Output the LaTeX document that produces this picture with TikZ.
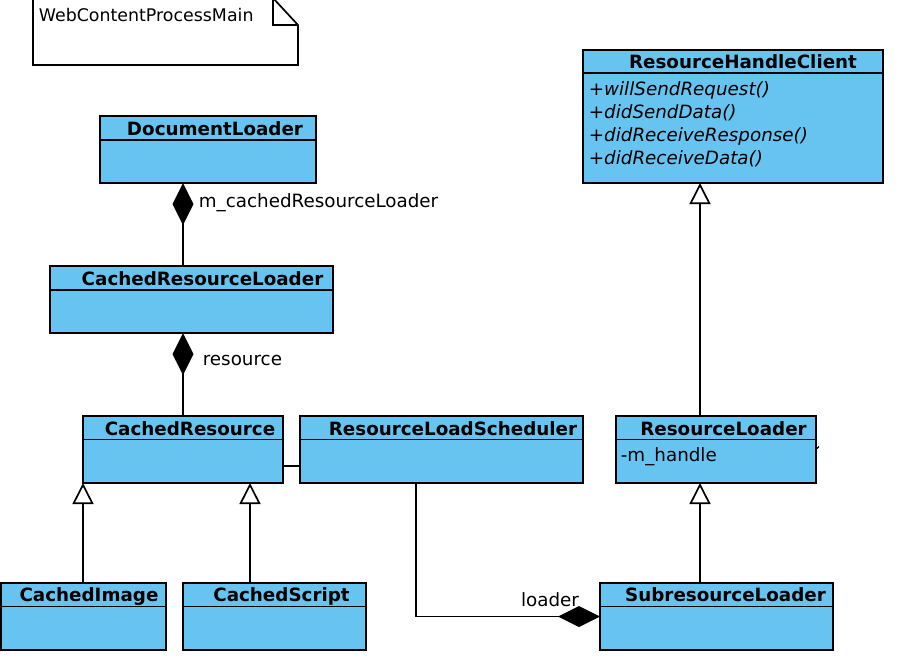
\documentclass[tikz,border=0pt]{standalone}
\usepackage{fontspec}
\setmainfont{DejaVu Sans}
\usetikzlibrary{arrows.meta}
\definecolor{umlblue}{RGB}{103,196,240}
\definecolor{umlline}{RGB}{0,0,0}
\tikzset{
  cls/.style={draw=umlline, fill=umlblue, rectangle, anchor=north west, inner sep=0pt, outer sep=0pt},
  ttl/.style={font=\fontsize{18.3}{21}\selectfont\bfseries, inner sep=0pt, anchor=base},
  lbl/.style={font=\fontsize{18.3}{21}\selectfont, inner sep=0pt, anchor=base west},
  oplbl/.style={font=\fontsize{18.3}{21}\selectfont\itshape, inner sep=0pt, anchor=base west},
  comp/.style={-{Diamond[length=42pt,width=21pt]}},
  gen/.style={-{Triangle[length=21pt,width=21pt,fill=white]}},
}
\begin{document}
\begin{tikzpicture}[x=1pt,y=-1pt,line width=1.7pt,draw=umlline]
\useasboundingbox (0,0) rectangle (911,665);

% note
\draw[fill=white] (33,-2) -- (273,-2) -- (298,25) -- (298,65) -- (33,65) -- cycle;
\draw (273,-2) -- (273,25) -- (298,25);
\node[inner sep=0pt, anchor=base west, font=\fontsize{17.4}{20}\selectfont] (notetxt) at (38,21.5) {WebContentProcessMain};

% ResourceHandleClient
\node[cls, minimum width=300pt, minimum height=133pt] (rhc) at (583,50) {};
\draw ([yshift=-23pt]rhc.north west) -- ([yshift=-23pt]rhc.north east);
\node[ttl] (rhct) at (743,68.5) {ResourceHandleClient};
\node[oplbl] (op1) at (588,95) {+willSendRequest()};
\node[oplbl] (op2) at (588,118.3) {+didSendData()};
\node[oplbl] (op3) at (588,141) {+didReceiveResponse()};
\node[oplbl] (op4) at (588,164) {+didReceiveData()};

% DocumentLoader
\node[cls, minimum width=216pt, minimum height=67pt] (dl) at (100,116) {};
\draw ([yshift=-24pt]dl.north west) -- ([yshift=-24pt]dl.north east);
\node[ttl] (dlt) at (215,135) {DocumentLoader};

% CachedResourceLoader
\node[cls, minimum width=283pt, minimum height=67pt] (crl) at (50,266) {};
\draw ([yshift=-24pt]crl.north west) -- ([yshift=-24pt]crl.north east);
\node[ttl] (crlt) at (202.5,285) {CachedResourceLoader};

% CachedResource
\node[cls, minimum width=200pt, minimum height=67pt] (cr) at (83,416) {};
\draw ([yshift=-23.5pt]cr.north west) -- ([yshift=-23.5pt]cr.north east);
\node[ttl] (crt) at (190,435) {CachedResource};

% ResourceLoadScheduler
\node[cls, minimum width=283pt, minimum height=67pt] (rls) at (300,416) {};
\draw ([yshift=-23.5pt]rls.north west) -- ([yshift=-23.5pt]rls.north east);
\node[ttl] (rlst) at (453,435) {ResourceLoadScheduler};

% ResourceLoader
\node[cls, minimum width=200pt, minimum height=67pt] (rl) at (616,416) {};
\draw ([yshift=-23.5pt]rl.north west) -- ([yshift=-23.5pt]rl.north east);
\node[ttl] (rlt) at (723.5,435) {ResourceLoader};
\node[lbl] (rlattr) at (620,461.5) {-m\_handle};

% CachedImage
\node[cls, minimum width=165.5pt, minimum height=67pt] (ci) at (0.8,583) {};
\draw ([yshift=-23.5pt]ci.north west) -- ([yshift=-23.5pt]ci.north east);
\node[ttl] (cit) at (89,601.7) {CachedImage};

% CachedScript
\node[cls, minimum width=183pt, minimum height=67pt] (cs) at (183,583) {};
\draw ([yshift=-23.5pt]cs.north west) -- ([yshift=-23.5pt]cs.north east);
\node[ttl] (cst) at (281.5,601.7) {CachedScript};

% SubresourceLoader
\node[cls, minimum width=233pt, minimum height=67pt] (sl) at (600,583) {};
\draw ([yshift=-23.5pt]sl.north west) -- ([yshift=-23.5pt]sl.north east);
\node[ttl] (slt) at (725.5,601.7) {SubresourceLoader};

% connectors
\draw[comp] ([xshift=133pt]crl.north west) -- ([xshift=83pt]dl.south west);
\node[lbl] (lbl1) at (198,207.3) {m\_cachedResourceLoader};

\draw[comp] ([xshift=100pt]cr.north west) -- ([xshift=133pt]crl.south west);
\node[lbl] (lbl2) at (202,365) {resource};

\draw[gen] (ci.north -| cr.south west) -- (cr.south west);
\draw[gen] ([xshift=67pt]cs.north west) -- ([xshift=167pt]cr.south west);

\draw ([yshift=-16.5pt]cr.east) -- ([yshift=-16.5pt]rls.west);

\draw[comp] ([xshift=116pt]rls.south west) |- (sl.west);
\node[lbl, anchor=base] (lbl3) at (550,606.7) {loader};

\draw[gen] ([xshift=84pt]rl.north west) -- ([xshift=117pt]rhc.south west);
\draw[gen] ([xshift=100pt]sl.north west) -- ([xshift=84pt]rl.south west);

\draw[line width=1.1pt] ([xshift=1pt,yshift=1pt]rl.east) -- ++(2,-2);
\end{tikzpicture}
\end{document}
